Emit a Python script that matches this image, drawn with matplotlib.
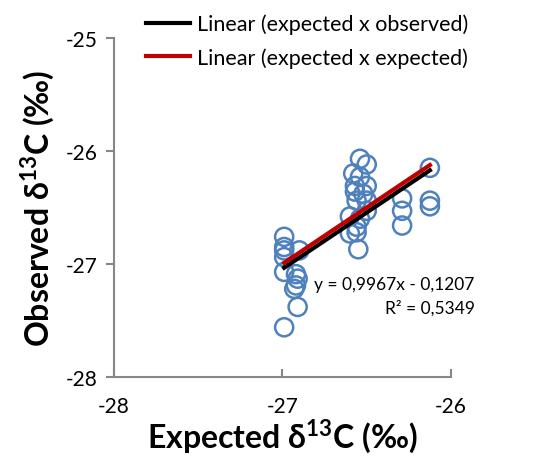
import numpy as np
import matplotlib
matplotlib.use("Agg")
import matplotlib.pyplot as plt

plt.rcParams['font.family'] = ['Lato', 'DejaVu Sans']
plt.rcParams['mathtext.fontset'] = 'custom'
plt.rcParams['mathtext.rm'] = 'Lato'
plt.rcParams['mathtext.bf'] = 'Lato:bold'

expected = [-26.99, -26.99, -26.99, -26.99, -26.90, -26.99, -26.92, -26.91, -26.92, -26.93, -26.91, -26.99,
            -26.54, -26.50, -26.58, -26.54, -26.57, -26.50, -26.57, -26.52, -26.56, -26.50,
            -26.50, -26.60, -26.54, -26.56, -26.56, -26.55, -26.60,
            -26.29, -26.29, -26.29, -26.125, -26.125, -26.125]
observed = [-26.76, -26.85, -26.88, -26.94, -26.88, -27.07, -27.09, -27.13, -27.19, -27.22, -27.38, -27.56,
            -26.07, -26.12, -26.20, -26.23, -26.31, -26.31, -26.36, -26.38, -26.44, -26.44,
            -26.53, -26.58, -26.60, -26.67, -26.72, -26.87, -26.73,
            -26.42, -26.53, -26.66, -26.15, -26.44, -26.49]

slope, intercept = 0.9967, -0.1207
r2 = 0.5349

fig = plt.figure(figsize=(5.34, 4.64), dpi=100)
ax = fig.add_axes([0.2135, 0.1853, 0.631, 0.731])

ax.scatter(expected, observed, s=170, facecolors='none', edgecolors='#4F81BD', linewidths=1.8, zorder=2)

xs = np.array([min(expected), max(expected)])
ax.plot(xs, slope * xs + intercept - 0.012, color='black', lw=3, label='Linear (expected x observed)', zorder=3)
ax.plot(xs, xs, color='#C00000', lw=3, label='Linear (expected x expected)', zorder=4)

ax.set_xlim(-28, -26)
ax.set_ylim(-28, -25)
ax.set_xticks([-28, -27, -26])
ax.set_yticks([-28, -27, -26, -25])
ax.set_xticklabels(['-28', '-27', '-26'])
ax.set_yticklabels(['-28', '-27', '-26', '-25'])

for side in ['top', 'right']:
    ax.spines[side].set_visible(False)
for side in ['left', 'bottom']:
    ax.spines[side].set_color('#878787')
    ax.spines[side].set_linewidth(1.5)
ax.tick_params(axis='y', direction='out', length=6, width=1.5, color='#878787', labelsize=15, pad=6)
ax.tick_params(axis='x', direction='in', length=6, width=1.5, color='#878787', labelsize=15, pad=14)

ax.set_xlabel(r'Expected δ$^{\mathbf{13}}$C (‰)', fontsize=23, fontweight='bold', labelpad=0)
ax.set_ylabel(r'Observed δ$^{\mathbf{13}}$C (‰)', fontsize=23, fontweight='bold', labelpad=6)

fig.text(0.889, 0.386, 'y = 0,9967x - 0,1207', fontsize=12.5, ha='right', va='center')
fig.text(0.889, 0.336, 'R² = 0,5349', fontsize=12.5, ha='right', va='center')

fig.legend(loc='upper left', bbox_to_anchor=(0.238, 1.01), frameon=False, fontsize=15.5,
           handlelength=2.0, handletextpad=0.35, labelspacing=0.6)

fig.savefig('out.png', dpi=100)
